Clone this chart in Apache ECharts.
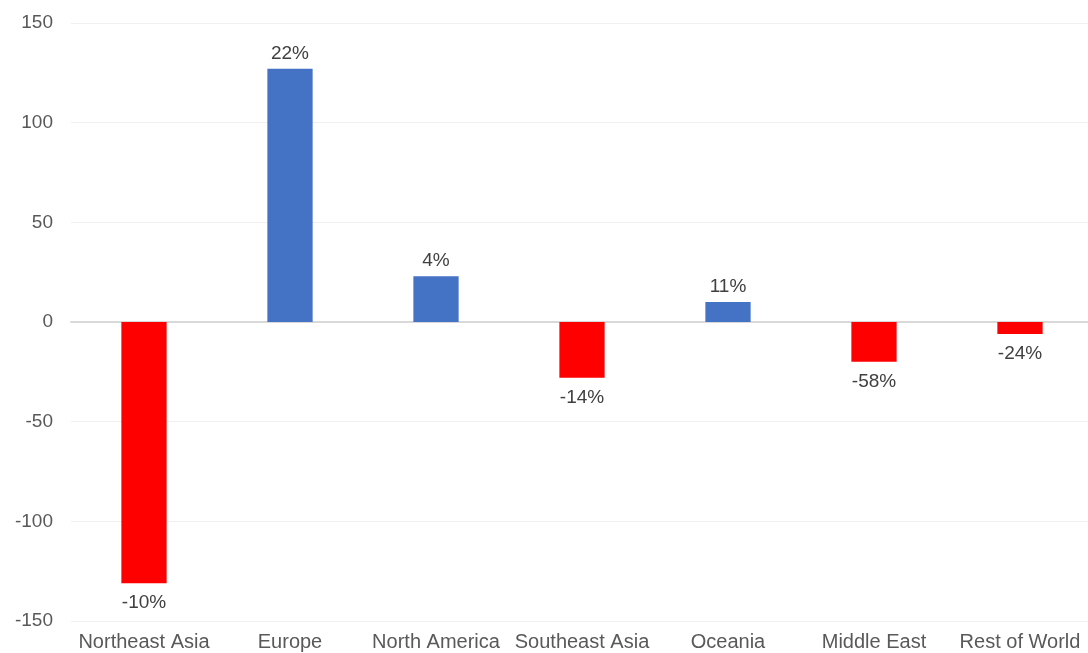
<!DOCTYPE html>
<html>
<head>
<meta charset="utf-8">
<script src="https://cdn.jsdelivr.net/npm/echarts@6/dist/echarts.min.js"></script>
<style>
  html, body { margin: 0; padding: 0; background: #ffffff; }
  #chart { width: 1088px; height: 653px; }
</style>
</head>
<body>
<div id="chart"></div>
<script>
// Regions and their change in volume, with the percentage change shown on each bar
const regions = ['Northeast Asia', 'Europe', 'North America', 'Southeast Asia', 'Oceania', 'Middle East', 'Rest of World'];
const changeValues = [-131, 127, 23, -28, 10, -20, -6];
const changePercent = ['-10%', '22%', '4%', '-14%', '11%', '-58%', '-24%'];
const yTicks = { min: -150, max: 150, interval: 50 };

const POS_COLOR = '#4472C4';
const NEG_COLOR = '#FF0000';

const barData = changeValues.map((v, i) => ({
  value: v,
  itemStyle: { color: v >= 0 ? POS_COLOR : NEG_COLOR },
  label: {
    position: v >= 0 ? 'top' : 'bottom',
    distance: v >= 0 ? 6 : 10,
    formatter: changePercent[i]
  }
}));

const chart = echarts.init(document.getElementById('chart'), null, { renderer: 'canvas' });
chart.setOption({
  animation: false,
  backgroundColor: '#ffffff',
  grid: { left: 71, top: 23, bottom: 32, width: 1022, containLabel: false, outerBoundsMode: 'none' },
  xAxis: {
    type: 'category',
    data: regions,
    position: 'bottom',
    axisTick: { show: false },
    axisLine: { show: true, onZero: true, lineStyle: { color: '#d9d9d9', width: 2 } },
    axisLabel: {
      show: true,
      interval: 0,
      color: '#595959',
      fontFamily: 'Liberation Sans, Arial, sans-serif',
      fontSize: 20,
      margin: 11,
      hideOverlap: false
    }
  },
  yAxis: {
    type: 'value',
    min: yTicks.min,
    max: yTicks.max,
    interval: yTicks.interval,
    axisLine: { show: false },
    axisTick: { show: false },
    splitLine: { show: true, lineStyle: { color: '#f0f0f0', width: 1 } },
    axisLabel: {
      color: '#595959',
      fontFamily: 'Liberation Sans, Arial, sans-serif',
      fontSize: 19,
      margin: 18
    }
  },
  series: [{
    type: 'bar',
    data: barData,
    barWidth: '31%',
    label: {
      show: true,
      color: '#404040',
      fontFamily: 'Liberation Sans, Arial, sans-serif',
      fontSize: 19
    }
  }]
});
</script>
</body>
</html>
